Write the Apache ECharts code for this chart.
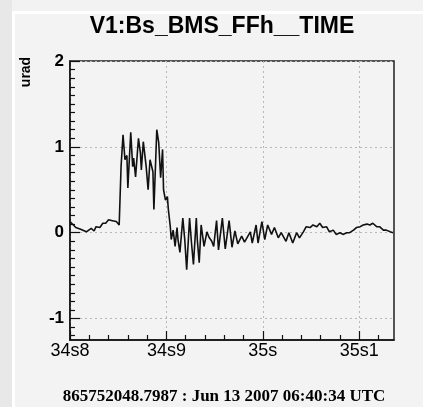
<!DOCTYPE html>
<html>
<head>
<meta charset="utf-8">
<script src="https://cdn.jsdelivr.net/npm/echarts@6/dist/echarts.min.js"></script>
<style>
  html, body { margin: 0; padding: 0; background: #ececec; }
  #chart { width: 423px; height: 407px; }
</style>
</head>
<body>
<div id="chart"></div>
<script>
// time in ms (34800 = 34.8 s)
const timeMs = [
  34800,34806,34811,34817,34822,34825,34827,34831,34834,34837,
  34840,34844,34848,34851,34852,34853,34855,34857,34859,34860,
  34863,34865,34866,34868,34871,34873,34874,34876,34879,34881,
  34883,34886,34887,34890,34892,34894,34896,34897,34899,34901,
  34902,34904,34905,34907,34909,34911,34912,34914,34917,34919,
  34921,34924,34926,34928,34931,34932,34934,34936,34939,34942,
  34944,34947,34949,34952,34954,34958,34961,34965,34968,34971,
  34974,34978,34981,34987,34989,34993,34995,34999,35002,35005,
  35009,35012,35016,35019,35024,35027,35031,35035,35038,35042,
  35045,35049,35052,35056,35059,35062,35066,35069,35073,35076,
  35080,35083,35087,35090,35094,35097,35101,35104,35108,35111,
  35114,35118,35121,35125,35128,35132,35135
];
const uradValues = [
  0.13,0.06,0.04,0.01,0.05,0.02,0.07,0.06,0.11,0.11,
  0.15,0.14,0.13,0.09,0.10,0.78,1.14,0.85,0.90,0.52,
  1.17,0.77,0.87,0.65,1.10,0.93,0.73,1.06,0.77,0.50,
  0.85,0.71,0.27,1.20,1.05,0.64,0.97,0.50,0.38,0.42,
  0.27,0.07,-0.08,0.03,-0.16,0.06,-0.08,-0.23,0.17,-0.08,
  -0.43,0.17,-0.12,-0.37,0.17,-0.08,-0.35,0.09,-0.16,0.01,
  -0.05,-0.10,-0.16,0.14,-0.20,0.17,-0.19,0.14,-0.17,0.02,
  -0.13,-0.04,-0.11,0.01,-0.12,0.09,-0.12,0.13,-0.08,0.09,
  -0.02,0.06,-0.06,0.00,-0.10,0.00,-0.12,0.00,-0.06,0.01,
  0.07,0.06,0.09,0.07,0.11,0.06,0.07,0.01,0.03,-0.02,
  0.00,-0.02,0.00,0.00,0.03,0.06,0.07,0.09,0.10,0.09,
  0.11,0.07,0.07,0.03,0.03,0.01,0.00
];
const xTickValues = [34800, 34900, 35000, 35100];
const xTickLabels = ['34s8', '34s9', '35s', '35s1'];
const yTickValues = [-1, 0, 1, 2];
const yTickLabels = ['-1', '0', '1', '2'];

const titleText = 'V1:Bs_BMS_FFh__TIME';
const yUnit = 'urad';
const footerText = '865752048.7987 : Jun 13 2007 06:40:34 UTC';

const seriesData = timeMs.map((t, i) => [t, uradValues[i]]);

const chart = echarts.init(document.getElementById('chart'), null, { renderer: 'canvas' });
chart.setOption({
  animation: false,
  backgroundColor: '#f3f3f3',
  graphic: [
    { type: 'rect', z: -100, shape: { x: 0, y: 0, width: 423, height: 407 }, style: { fill: '#f2f2f2' } },
    { type: 'rect', z: -99, shape: { x: 0, y: 0, width: 12, height: 407 }, style: { fill: '#e8e8e8' } },
    { type: 'rect', z: -98, shape: { x: 12, y: 11, width: 411, height: 396 }, style: { fill: '#ffffff' } },
    { type: 'rect', z: -97, shape: { x: 15, y: 14, width: 408, height: 393 }, style: { fill: '#f3f3f3' } },
    {
      type: 'text', x: 222, y: 27,
      style: { text: titleText, font: 'bold 23px "Liberation Sans"', fill: '#000', align: 'center', verticalAlign: 'middle' }
    },
    {
      type: 'text', x: 26, y: 72, rotation: Math.PI / 2,
      style: { text: yUnit, font: 'bold 14px "Liberation Sans"', fill: '#000', align: 'center', verticalAlign: 'middle' }
    },
    {
      type: 'text', x: 224, y: 397,
      style: { text: footerText, font: 'bold 17px "Liberation Serif"', fill: '#000', align: 'center', verticalAlign: 'middle' }
    }
  ],
  grid: {
    left: 70, top: 61, width: 324, height: 279,
    show: true, backgroundColor: 'transparent', borderColor: '#222', borderWidth: 1.5
  },
  xAxis: {
    type: 'value',
    min: 34800, max: 35136, interval: 100,
    axisLine: { show: true, onZero: false, lineStyle: { color: '#111', width: 1.5 } },
    axisTick: { show: true, inside: true, length: 9, customValues: xTickValues, lineStyle: { color: '#111', width: 1.2 } },
    minorTick: { show: true, splitNumber: 5, length: 5, lineStyle: { color: '#111', width: 1.2 } },
    axisLabel: {
      customValues: xTickValues,
      margin: 2,
      fontFamily: 'Liberation Sans', fontSize: 18, color: '#000',
      formatter: v => { const i = xTickValues.indexOf(v); return i >= 0 ? xTickLabels[i] : ''; }
    },
    splitLine: { show: true, lineStyle: { color: '#b8b8b8', type: [2, 3], width: 1 } }
  },
  yAxis: {
    type: 'value',
    min: -1.25, max: 2, splitNumber: 3,
    axisLine: { show: true, onZero: false, lineStyle: { color: '#111', width: 1.5 } },
    axisTick: { show: true, inside: true, length: 10, customValues: yTickValues, lineStyle: { color: '#111', width: 1.2 } },
    minorTick: { show: true, splitNumber: 10, length: 5, lineStyle: { color: '#111', width: 1.2 } },
    axisLabel: {
      customValues: yTickValues,
      margin: 6,
      fontFamily: 'Liberation Sans', fontSize: 17, fontWeight: 'bold', color: '#000',
      formatter: v => { const i = yTickValues.indexOf(v); return i >= 0 ? yTickLabels[i] : ''; }
    },
    splitLine: { show: true, lineStyle: { color: '#b8b8b8', type: [2, 3], width: 1 } }
  },
  series: [{
    type: 'line',
    data: seriesData,
    showSymbol: false,
    symbol: 'none',
    lineStyle: { color: '#111', width: 1.6 },
    z: 3
  }]
});
</script>
</body>
</html>
